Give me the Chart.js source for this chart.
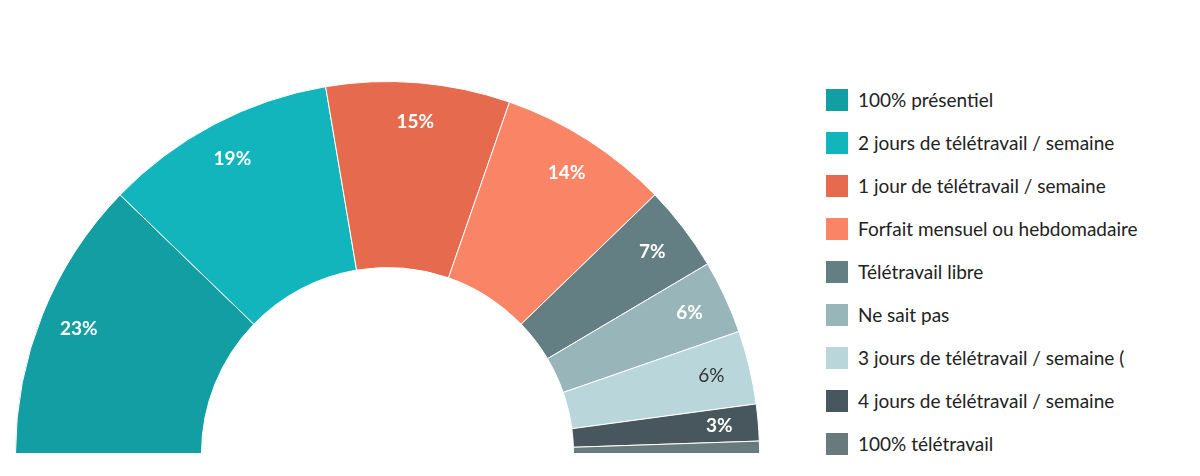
<!DOCTYPE html>
<html><head><meta charset="utf-8">
<script src="https://cdn.jsdelivr.net/npm/chart.js@4"></script>
<style>
body{margin:0;width:1200px;height:476px;background:#fff;overflow:hidden;font-family:Lato,sans-serif;position:relative}
#wrap{position:absolute;left:15px;top:81px;width:745px;height:373px}
#legend{position:absolute;left:826px;top:78px;width:337px;overflow:hidden;white-space:nowrap}
.item{height:43px;display:flex;align-items:center;font-size:19px;color:#222}
.box{width:22px;height:22px;margin-right:10px;flex:none}
</style></head><body>
<div id="wrap"><canvas id="c"></canvas></div>
<div id="legend"></div>
<script>
const categories=["100% présentiel","2 jours de télétravail / semaine","1 jour de télétravail / semaine","Forfait mensuel ou hebdomadaire","Télétravail libre","Ne sait pas","3 jours de télétravail / semaine (","4 jours de télétravail / semaine","100% télétravail"];
const values=[23,19,15,14,7,6,6,3,1];
const labels=["23%","19%","15%","14%","7%","6%","6%","3%",""];
const colors=["#139ea3","#13b5bd","#e66a4d","#f98466","#637f84","#98b5b9","#b9d6db","#48575e","#687a7c"];
const labelColors=["#fff","#fff","#fff","#fff","#fff","#fff","#333","#fff","#fff"];
const labelWeights=["bold","bold","bold","bold","bold","bold","normal","bold","bold"];
const lg=document.getElementById('legend');
categories.forEach((c,i)=>{const d=document.createElement('div');d.className='item';d.innerHTML='<span class="box" style="background:'+colors[i]+'"></span><span>'+c+'</span>';lg.appendChild(d);});
const lblPlugin={id:'lbl',afterDatasetsDraw(ch){const ctx=ch.ctx;ch.getDatasetMeta(0).data.forEach((a,i)=>{if(!labels[i])return;const m=(a.startAngle+a.endAngle)/2;const r=a.innerRadius+0.79*(a.outerRadius-a.innerRadius);ctx.save();ctx.font=labelWeights[i]+' 19px Lato';ctx.fillStyle=labelColors[i];ctx.textAlign='center';ctx.textBaseline='middle';ctx.fillText(labels[i],a.x+r*Math.cos(m),a.y+r*Math.sin(m));ctx.restore();});}};
new Chart(document.getElementById('c'),{type:'doughnut',data:{labels:categories,datasets:[{data:values,backgroundColor:colors,borderColor:'#fff',borderWidth:1}]},
options:{responsive:true,maintainAspectRatio:false,animation:false,rotation:-90,circumference:180,cutout:'50%',layout:{padding:0},plugins:{legend:{display:false},tooltip:{enabled:false}}},plugins:[lblPlugin]});
</script></body></html>
